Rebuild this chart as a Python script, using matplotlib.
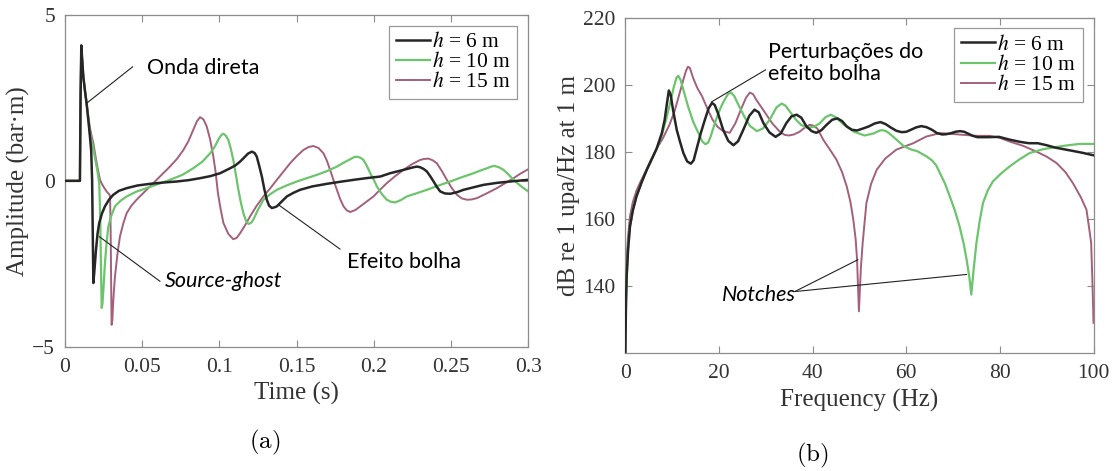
import matplotlib
matplotlib.use('Agg')
import matplotlib.pyplot as plt
import numpy as np

plt.rcParams['mathtext.fontset'] = 'stix'

# ---------------- data: (a) source signatures, (time [s], amplitude [bar.m]) ----------------
sig_h6 = [(0, 0), (0.0097, 0), (0.0101, 2.5), (0.0106, 4.08), (0.0111, 3.7), (0.0119, 3.14),
          (0.0130, 2.7), (0.0140, 2.34), (0.0151, 1.85), (0.0162, 1.33), (0.0170, 0.9), (0.0176, 0.0),
          (0.0184, -3.08), (0.0190, -2.75), (0.0201, -2.08), (0.0211, -1.6), (0.0222, -1.27),
          (0.0240, -0.98), (0.0259, -0.77), (0.0285, -0.57), (0.0313, -0.42), (0.035, -0.30),
          (0.040, -0.22), (0.047, -0.14), (0.0551, -0.09), (0.0640, -0.05), (0.0724, -0.02),
          (0.080, 0.02), (0.0875, 0.08), (0.094, 0.14), (0.1005, 0.23), (0.107, 0.38), (0.1105, 0.47),
          (0.1134, 0.58), (0.1160, 0.70), (0.1185, 0.82), (0.121, 0.88), (0.1228, 0.84), (0.1242, 0.73),
          (0.1258, 0.45), (0.1275, 0.13), (0.1291, -0.25), (0.1307, -0.57), (0.1322, -0.75),
          (0.134, -0.82), (0.1355, -0.80), (0.1372, -0.77), (0.140, -0.64), (0.1437, -0.47),
          (0.148, -0.36), (0.1523, -0.27), (0.160, -0.17), (0.1696, -0.09), (0.178, -0.03),
          (0.1869, 0.03), (0.195, 0.08), (0.2042, 0.13), (0.2106, 0.23), (0.2192, 0.33),
          (0.2257, 0.41), (0.2280, 0.43), (0.230, 0.41), (0.2322, 0.36), (0.2344, 0.28),
          (0.2365, 0.14), (0.2387, -0.02), (0.2408, -0.18), (0.243, -0.32), (0.2460, -0.38),
          (0.2495, -0.39), (0.2540, -0.34), (0.2581, -0.27), (0.2650, -0.19), (0.2711, -0.12),
          (0.280, -0.06), (0.2884, -0.02), (0.295, 0.01), (0.300, 0.03)]

sig_h10 = [(0, 0), (0.0097, 0), (0.0101, 2.5), (0.0106, 4.08), (0.0111, 3.7), (0.0119, 3.14),
           (0.0130, 2.7), (0.0140, 2.34), (0.0151, 1.9), (0.0162, 1.45), (0.0173, 1.2), (0.0184, 0.95),
           (0.0195, 0.68), (0.0205, 0.43), (0.0214, 0.18), (0.0222, -0.07), (0.0228, -1.0),
           (0.0233, -2.5), (0.0238, -3.83), (0.0243, -3.7), (0.0250, -3.2), (0.0259, -2.48),
           (0.0270, -1.85), (0.0281, -1.38), (0.030, -1.05), (0.0324, -0.77), (0.036, -0.60),
           (0.040, -0.47), (0.046, -0.33), (0.0529, -0.22), (0.060, -0.10), (0.068, 0.03),
           (0.076, 0.18), (0.0831, 0.38), (0.089, 0.58), (0.094, 0.83), (0.097, 1.03), (0.0994, 1.25),
           (0.1012, 1.38), (0.1026, 1.42), (0.1042, 1.36), (0.1058, 1.23), (0.1074, 0.97),
           (0.109, 0.63), (0.1107, 0.18), (0.1123, -0.27), (0.1139, -0.65), (0.1155, -0.97),
           (0.1172, -1.2), (0.1188, -1.30), (0.1204, -1.27), (0.122, -1.17), (0.125, -0.87),
           (0.1285, -0.57), (0.133, -0.40), (0.1372, -0.27), (0.144, -0.13), (0.1501, -0.02),
           (0.1566, 0.08), (0.1631, 0.18), (0.170, 0.30), (0.1761, 0.43), (0.1805, 0.55),
           (0.1847, 0.65), (0.1870, 0.71), (0.189, 0.73), (0.1912, 0.70), (0.1933, 0.63),
           (0.1955, 0.45), (0.1977, 0.23), (0.200, 0.03), (0.202, -0.17), (0.2052, -0.40),
           (0.2084, -0.57), (0.2110, -0.63), (0.2138, -0.65), (0.2175, -0.58), (0.2214, -0.47),
           (0.228, -0.37), (0.2344, -0.27), (0.242, -0.14), (0.2495, -0.02), (0.257, 0.11),
           (0.2646, 0.23), (0.2690, 0.31), (0.2733, 0.38), (0.2760, 0.43), (0.278, 0.45),
           (0.281, 0.41), (0.284, 0.33), (0.2872, 0.19), (0.2905, 0.03), (0.2937, -0.10),
           (0.297, -0.22), (0.300, -0.32)]

sig_h15 = [(0, 0), (0.0097, 0), (0.0101, 2.5), (0.0106, 4.08), (0.0111, 3.7), (0.0119, 3.14),
           (0.0130, 2.7), (0.0140, 2.34), (0.0151, 1.95), (0.0162, 1.6), (0.0173, 1.35), (0.0184, 1.13),
           (0.0195, 0.82), (0.0205, 0.55), (0.0216, 0.28), (0.0227, 0.03), (0.0238, -0.08),
           (0.0250, -0.18), (0.027, -0.32), (0.0285, -0.40), (0.0292, -0.45), (0.0296, -1.5),
           (0.0299, -3.0), (0.0302, -4.34), (0.0307, -4.2), (0.0312, -3.7), (0.0318, -3.25),
           (0.0324, -2.88), (0.034, -2.2), (0.0356, -1.68), (0.0378, -1.28), (0.040, -0.97),
           (0.043, -0.75), (0.0464, -0.57), (0.052, -0.31), (0.0572, -0.07), (0.063, 0.20),
           (0.068, 0.43), (0.0725, 0.66), (0.0767, 0.93), (0.080, 1.20), (0.0831, 1.54),
           (0.0855, 1.80), (0.0875, 1.92), (0.0897, 1.85), (0.0918, 1.64), (0.094, 1.25),
           (0.0961, 0.73), (0.0976, 0.25), (0.0990, -0.35), (0.1008, -0.85), (0.1026, -1.27),
           (0.1058, -1.60), (0.109, -1.76), (0.1112, -1.72), (0.1134, -1.58), (0.1165, -1.35),
           (0.1199, -1.07), (0.124, -0.76), (0.1285, -0.47), (0.133, -0.22), (0.1372, 0.03),
           (0.1415, 0.28), (0.1458, 0.53), (0.150, 0.74), (0.1544, 0.93), (0.1578, 1.02),
           (0.1609, 1.05), (0.1642, 0.99), (0.1674, 0.83), (0.1695, 0.62), (0.1717, 0.33),
           (0.1739, 0.02), (0.1761, -0.27), (0.1782, -0.55), (0.1804, -0.77), (0.1825, -0.89),
           (0.1847, -0.94), (0.188, -0.88), (0.1912, -0.77), (0.1955, -0.62), (0.1998, -0.47),
           (0.204, -0.27), (0.2084, -0.07), (0.2138, 0.14), (0.2192, 0.33), (0.2246, 0.50),
           (0.230, 0.63), (0.2327, 0.66), (0.2354, 0.67), (0.2381, 0.62), (0.2408, 0.53),
           (0.2440, 0.30), (0.2473, 0.03), (0.2505, -0.22), (0.2538, -0.42), (0.2570, -0.53),
           (0.2603, -0.57), (0.2635, -0.56), (0.2668, -0.52), (0.273, -0.38), (0.2797, -0.22),
           (0.2850, -0.07), (0.2905, 0.08), (0.2950, 0.22), (0.300, 0.35)]

# ---------------- data: (b) spectra, (frequency [Hz], level [dB]) ----------------
spec_h6 = [(0, 120), (0.15, 135), (0.3, 143), (0.6, 151), (1.0, 157.8), (1.6, 162.5), (2.4, 166.8),
           (3.5, 171), (4.6, 174.7), (5.7, 178), (6.7, 181), (7.8, 185.6), (8.4, 189.5), (8.9, 194.5),
           (9.3, 198.3), (9.7, 197.0), (10.2, 192.5), (11.0, 186.5), (11.7, 183.0), (12.4, 179.7),
           (13.2, 177.2), (14.0, 176.5), (14.6, 177.5), (15.2, 180.7), (16.1, 185.5), (17.0, 189.6),
           (17.8, 193.0), (18.5, 194.6), (19.1, 194.0), (19.8, 191.5), (20.9, 186.6), (22.0, 183.3),
           (23.1, 182.0), (24.1, 183.2), (25.2, 186.6), (26.5, 190.8), (27.6, 192.6), (28.5, 191.8),
           (29.5, 188.6), (30.8, 185.8), (32.1, 184.5), (33.2, 185.5), (34.4, 188.6), (35.5, 190.6),
           (36.6, 191.1), (37.6, 190.2), (38.7, 187.6), (39.8, 186.2), (40.8, 185.7), (41.9, 186.5),
           (43.0, 188.1), (44.2, 189.6), (45.3, 190.0), (46.3, 189.2), (47.3, 187.6), (48.4, 186.6),
           (49.5, 186.4), (50.8, 187.0), (52.0, 187.6), (53.3, 188.5), (54.5, 188.9), (55.6, 188.3),
           (56.8, 187.2), (57.9, 186.3), (59.0, 185.9), (60.0, 186.0), (61.0, 186.6), (62.1, 187.3),
           (63.2, 187.7), (64.3, 187.4), (65.5, 186.6), (66.6, 185.6), (67.7, 185.2), (68.6, 185.3),
           (69.6, 185.6), (70.5, 186.0), (71.5, 186.2), (72.4, 186.0), (73.3, 185.4), (74.2, 184.8),
           (75.2, 184.4), (77.5, 184.4), (79.8, 184.5), (82.0, 183.7), (84.3, 183.0), (86.2, 182.6),
           (88.1, 182.6), (90.0, 182.0), (91.8, 181.3), (93.7, 180.8), (95.6, 180.3), (97.8, 179.7),
           (100, 179.0)]

spec_h10 = [(0, 120), (0.15, 135), (0.3, 143), (0.6, 151), (1.0, 157.8), (1.6, 162.5), (2.4, 166.8),
            (3.5, 171), (4.6, 174.7), (5.7, 178), (6.7, 181), (7.8, 185), (8.7, 189.5), (9.4, 193.5),
            (10.3, 199), (10.9, 202.0), (11.3, 202.7), (11.8, 201.5), (12.3, 199.0), (13.4, 193.6),
            (14.5, 189.0), (15.6, 185.7), (16.4, 183.2), (17.1, 182.3), (17.7, 182.8), (18.2, 184.5),
            (19.4, 189.7), (20.3, 193.0), (21.0, 195.0), (21.9, 197.2), (22.6, 197.7), (23.3, 196.6),
            (24.0, 194.5), (25.4, 190.6), (26.6, 187.8), (28.1, 186.2), (29.4, 187.0), (30.8, 189.5),
            (32.3, 193.3), (33.4, 194.4), (34.2, 193.8), (34.9, 192.5), (36.4, 189.7), (37.6, 188.0),
            (39.0, 187.2), (40.3, 187.5), (41.5, 188.5), (42.8, 190.4), (43.9, 191.1), (45.0, 190.3),
            (46.6, 188.2), (48.9, 186.0), (51.1, 184.9), (53.0, 185.5), (54.2, 186.3), (54.9, 186.5),
            (55.7, 186.2), (56.4, 185.5), (57.9, 183.7), (59.4, 181.8), (60.9, 180.8), (62.4, 180.2),
            (64.3, 178.7), (65.5, 177.5), (66.4, 176.0), (67.2, 173.7), (68.3, 170.5), (69.3, 166.8),
            (70.4, 162.5), (71.4, 157.8), (72.3, 152.5), (72.9, 147.9), (73.5, 142.5), (73.9, 137.5),
            (74.4, 145.0), (75.0, 152.9), (75.7, 159.5), (76.4, 164.8), (77.4, 168.5), (78.5, 171.2),
            (80.2, 173.5), (82.1, 175.7), (84.2, 177.8), (86.4, 179.7), (89.2, 180.8), (92.1, 181.5),
            (94.6, 182.0), (97.1, 182.4), (100, 182.4)]

spec_h15 = [(0, 120), (0.15, 140), (0.3, 148), (0.6, 155), (1.0, 160.8), (1.6, 165), (2.4, 168.5),
            (3.1, 170.7), (4.6, 175), (5.7, 178.2), (6.7, 181), (8.0, 184), (9.4, 188), (10.5, 192),
            (11.5, 197), (12.5, 202), (13.0, 204.3), (13.4, 205.4), (13.8, 205.0), (14.5, 202.0),
            (15.4, 199.0), (16.4, 196.6), (17.5, 193.0), (18.6, 189.7), (19.7, 187.5), (20.9, 186.2),
            (22.3, 185.7), (23.5, 188.5), (24.8, 193.0), (25.8, 196.2), (26.6, 197.7), (27.3, 197.2),
            (28.0, 195.5), (29.9, 191.6), (31.4, 188.5), (32.9, 186.2), (34.0, 185.1), (34.9, 184.9),
            (36.0, 185.2), (37.2, 186.0), (38.4, 187.3), (39.4, 188.1), (40.2, 187.8), (41.0, 187.0),
            (42.3, 183.6), (43.8, 180.5), (45.1, 177.7), (46.3, 174.0), (47.3, 169.7), (48.1, 165.0),
            (48.7, 159.8), (49.2, 154.0), (49.5, 147.9), (49.9, 132.5), (50.3, 145.0), (50.7, 152.9),
            (51.5, 164.8), (52.5, 170.5), (53.7, 174.7), (55.5, 178.0), (57.9, 180.7), (61.5, 182.6),
            (64.3, 184.6), (67.2, 185.6), (69.5, 185.4), (72.1, 185.1), (75.0, 184.8), (77.8, 184.8),
            (80.0, 184.2), (82.1, 183.1), (85.0, 181.8), (87.8, 180.1), (90.0, 178.6), (92.1, 176.7),
            (94.0, 174.0), (95.6, 170.7), (97.3, 166.5), (98.5, 162.8), (99.2, 156.0), (99.5, 152.9),
            (99.8, 140.0), (100, 129.1)]

labels = [r'$h$ = 6 m', r'$h$ = 10 m', r'$h$ = 15 m']
time_ticks = [0, 0.05, 0.1, 0.15, 0.2, 0.25, 0.3]
time_ticklabels = ['0', '0.05', '0.1', '0.15', '0.2', '0.25', '0.3']
amp_ticks = [-5, 0, 5]
amp_ticklabels = ['\u22125', '0', '5']
freq_ticks = [0, 20, 40, 60, 80, 100]
db_ticks = [140, 160, 180, 200, 220]

col_h6, col_h10, col_h15 = '#262626', '#6CC46C', '#A3607C'
serif = 'Liberation Serif'
sans = 'Lato'
tick_color = '#333333'
spine_color = '#8c8c8c'

fig = plt.figure(figsize=(11.14, 4.71), dpi=100)
ax1 = fig.add_axes([0.0583, 0.2639, 0.4159, 0.7043])
ax2 = fig.add_axes([0.5613, 0.2499, 0.4203, 0.7125])


def style(ax):
    for s in ax.spines.values():
        s.set_color(spine_color)
        s.set_linewidth(0.9)
    ax.tick_params(direction='in', top=True, right=True, length=5, width=0.8,
                   color=spine_color, labelcolor=tick_color, labelsize=15.5)
    ax.tick_params(axis='x', pad=8)
    ax.tick_params(axis='y', pad=7)
    for lab in ax.get_xticklabels() + ax.get_yticklabels():
        lab.set_fontfamily(serif)


def unzip(pairs):
    a = np.array(pairs, dtype=float)
    return a[:, 0], a[:, 1]


leg_kw = dict(loc='upper right', prop={'family': serif, 'size': 15.5}, handlelength=1.6,
              handletextpad=0.1, labelspacing=0.0, borderpad=0.3, fancybox=False,
              edgecolor='#999999', framealpha=1)
line_kw = dict(arrowstyle='-', color='#222222', lw=0.8, shrinkA=0, shrinkB=0)

# ---- panel (a)
for pairs, col, lw, z, lab in [(sig_h6, col_h6, 1.8, 4, labels[0]),
                               (sig_h10, col_h10, 1.6, 3, labels[1]),
                               (sig_h15, col_h15, 1.4, 2, labels[2])]:
    x, y = unzip(pairs)
    ax1.plot(x, y, color=col, lw=lw, zorder=z, label=lab, solid_joinstyle='round')
ax1.set_xlim(0, 0.3)
ax1.set_ylim(-5, 5)
ax1.set_xticks(time_ticks)
ax1.set_xticklabels(time_ticklabels)
ax1.set_yticks(amp_ticks)
ax1.set_yticklabels(amp_ticklabels)
style(ax1)
ax1.set_xlabel('Time (s)', fontsize=18, fontfamily=serif, color=tick_color, labelpad=4)
ax1.set_ylabel('Amplitude (bar\u00b7m)', fontsize=18, fontfamily=serif, color=tick_color, labelpad=2)
leg1 = ax1.legend(**leg_kw)
leg1.get_frame().set_linewidth(0.9)

ax1.annotate('', xy=(0.01406, 2.34), xytext=(0.0439, 3.44), arrowprops=line_kw)
ax1.text(0.0531, 3.40, 'Onda direta', fontsize=15.5, fontfamily=sans, va='center', ha='left')
ax1.annotate('', xy=(0.0222, -1.68), xytext=(0.0616, -3.03), arrowprops=line_kw)
ax1.text(0.0648, -3.01, 'Source-ghost', fontsize=15.5, fontfamily=sans, style='italic',
         va='center', ha='left')
ax1.annotate('', xy=(0.1382, -0.72), xytext=(0.1782, -2.06), arrowprops=line_kw)
ax1.text(0.1827, -2.44, 'Efeito bolha', fontsize=15.5, fontfamily=sans, va='center', ha='left')

# ---- panel (b)
for pairs, col, lw, z, lab in [(spec_h6, col_h6, 1.8, 4, labels[0]),
                               (spec_h10, col_h10, 1.6, 3, labels[1]),
                               (spec_h15, col_h15, 1.4, 2, labels[2])]:
    x, y = unzip(pairs)
    ax2.plot(x, y, color=col, lw=lw, zorder=z, label=lab, solid_joinstyle='round')
ax2.set_xlim(0, 100)
ax2.set_ylim(120, 220)
ax2.set_xticks(freq_ticks)
ax2.set_yticks(db_ticks)
style(ax2)
ax2.set_xlabel('Frequency (Hz)', fontsize=18, fontfamily=serif, color=tick_color, labelpad=4)
ax2.set_ylabel('dB re 1 upa/Hz at 1 m', fontsize=18, fontfamily=serif, color=tick_color, labelpad=2)
leg2 = ax2.legend(**leg_kw)
leg2.get_frame().set_linewidth(0.9)

ax2.annotate('', xy=(18.4, 194.9), xytext=(30.0, 204.5), arrowprops=line_kw)
ax2.text(30.5, 206.5, 'Perturbações do\nefeito bolha', fontsize=15.5, fontfamily=sans,
         va='center', ha='left', linespacing=1.1)
ax2.annotate('', xy=(49.7, 147.9), xytext=(36.2, 138.4), arrowprops=line_kw)
ax2.annotate('', xy=(72.9, 143.5), xytext=(36.2, 138.4), arrowprops=line_kw)
ax2.text(20.6, 137.5, 'Notches', fontsize=15.5, fontfamily=sans, style='italic',
         va='center', ha='left')

fig.text(0.238, 0.06, r'$\mathrm{(a)}$', fontsize=18, math_fontfamily='cm', ha='center', va='center')
fig.text(0.729, 0.032, r'$\mathrm{(b)}$', fontsize=18, math_fontfamily='cm', ha='center', va='center')

fig.savefig('out.png', dpi=100)
